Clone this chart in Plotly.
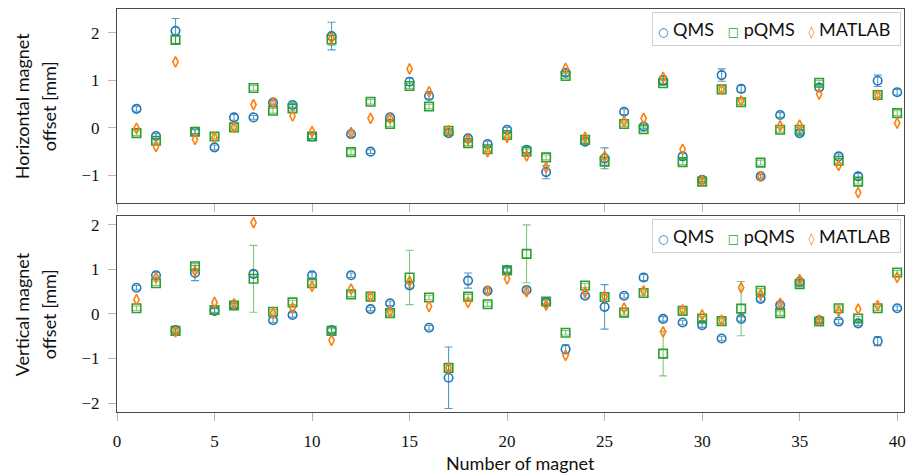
import plotly.graph_objects as go

# Magnet index
magnets = list(range(1, 41))

# Horizontal offsets [mm]
h_qms = [0.40, -0.17, 2.04, -0.08, -0.41, 0.22, 0.22, 0.53, 0.48, -0.18,
         1.93, -0.13, -0.50, 0.22, 0.97, 0.67, -0.11, -0.22, -0.34, -0.04,
         -0.46, -0.93, 1.16, -0.29, -0.64, 0.34, 0.03, 1.00, -0.60, -1.09,
         1.11, 0.82, -1.02, 0.27, -0.11, 0.85, -0.60, -1.02, 0.99, 0.75]
h_qms_err = [0.05, 0.05, 0.26, 0.04, 0.05, 0.06, 0.04, 0.05, 0.06, 0.05,
             0.29, 0.05, 0.04, 0.05, 0.08, 0.06, 0.05, 0.05, 0.06, 0.05,
             0.06, 0.14, 0.06, 0.05, 0.22, 0.06, 0.05, 0.09, 0.06, 0.04,
             0.13, 0.07, 0.04, 0.05, 0.05, 0.06, 0.05, 0.06, 0.12, 0.06]
h_pqms = [-0.11, -0.27, 1.85, -0.08, -0.18, 0.01, 0.84, 0.36, 0.41, -0.18,
          1.86, -0.51, 0.55, 0.08, 0.88, 0.45, -0.06, -0.32, -0.45, -0.15,
          -0.50, -0.62, 1.09, -0.25, -0.71, 0.08, -0.03, 0.94, -0.72, -1.13,
          0.81, 0.54, -0.73, -0.04, -0.04, 0.95, -0.69, -1.13, 0.69, 0.31]
h_pqms_err = [0.05, 0.05, 0.08, 0.05, 0.05, 0.05, 0.05, 0.05, 0.05, 0.05,
              0.12, 0.05, 0.05, 0.05, 0.05, 0.05, 0.05, 0.05, 0.05, 0.05,
              0.05, 0.05, 0.05, 0.05, 0.05, 0.05, 0.05, 0.05, 0.05, 0.05,
              0.05, 0.05, 0.05, 0.05, 0.05, 0.05, 0.05, 0.05, 0.05, 0.05]
h_matlab = [-0.01, -0.39, 1.39, -0.24, -0.20, 0.01, 0.49, 0.53, 0.25, -0.08,
            1.88, -0.10, 0.20, 0.20, 1.24, 0.76, -0.06, -0.25, -0.50, -0.20,
            -0.59, -0.83, 1.25, -0.20, -0.60, 0.13, 0.20, 1.06, -0.45, -1.11,
            0.81, 0.57, -1.02, 0.04, 0.06, 0.71, -0.79, -1.36, 0.69, 0.10]

# Vertical offsets [mm]
v_qms = [0.59, 0.87, -0.36, 0.92, 0.07, 0.20, 0.90, -0.14, -0.02, 0.87,
         -0.36, 0.87, 0.11, 0.24, 0.64, -0.31, -1.43, 0.75, 0.52, 0.99,
         0.54, 0.26, -0.79, 0.41, 0.16, 0.41, 0.82, -0.11, -0.19, -0.25,
         -0.55, -0.11, 0.34, 0.20, 0.72, -0.14, -0.17, -0.21, -0.61, 0.13]
v_qms_err = [0.05, 0.06, 0.05, 0.17, 0.05, 0.05, 0.07, 0.05, 0.05, 0.06,
             0.05, 0.05, 0.04, 0.05, 0.06, 0.05, 0.69, 0.17, 0.05, 0.05,
             0.05, 0.05, 0.10, 0.05, 0.50, 0.05, 0.07, 0.05, 0.05, 0.05,
             0.05, 0.05, 0.05, 0.05, 0.05, 0.05, 0.05, 0.05, 0.10, 0.05]
v_pqms = [0.13, 0.69, -0.38, 1.07, 0.09, 0.19, 0.79, 0.05, 0.26, 0.69,
          -0.38, 0.44, 0.39, 0.02, 0.82, 0.37, -1.21, 0.39, 0.22, 0.98,
          1.35, 0.28, -0.42, 0.64, 0.38, 0.03, 0.47, -0.89, 0.07, -0.10,
          -0.16, 0.12, 0.52, 0.02, 0.67, -0.17, 0.13, -0.10, 0.13, 0.93]
v_pqms_err = [0.05, 0.05, 0.05, 0.06, 0.05, 0.05, 0.75, 0.05, 0.05, 0.05,
              0.05, 0.05, 0.05, 0.05, 0.61, 0.05, 0.06, 0.05, 0.05, 0.05,
              0.65, 0.05, 0.05, 0.05, 0.05, 0.05, 0.05, 0.50, 0.05, 0.05,
              0.05, 0.61, 0.05, 0.05, 0.05, 0.05, 0.05, 0.05, 0.05, 0.05]
v_matlab = [0.32, 0.82, -0.40, 0.96, 0.26, 0.23, 2.05, 0.02, 0.13, 0.62,
            -0.59, 0.56, 0.39, 0.05, 0.73, 0.17, -1.21, 0.26, 0.52, 0.79,
            0.50, 0.20, -0.93, 0.49, 0.39, 0.13, 0.52, -0.40, 0.09, -0.02,
            -0.14, 0.59, 0.44, 0.24, 0.77, -0.14, 0.07, 0.11, 0.19, 0.82]

x_ticks = list(range(0, 41, 5))

BLUE = "#1f77b4"
GREEN = "#2ca02c"
ORANGE = "#ff7f0e"

# name, marker symbol, colour, error-bar colour, marker size, legend glyph
SERIES = [
    ("QMS", "circle-open", BLUE, "rgba(31,119,180,0.75)", 8.5, "○"),
    ("pQMS", "square-open", GREEN, "rgba(44,160,44,0.6)", 8.5, "□"),
    ("MATLAB", "diamond-tall-open", ORANGE, "rgba(255,127,14,0.7)", 7.5, "◊"),
]

panels = [
    ("x", "y", [h_qms, h_pqms, h_matlab], [h_qms_err, h_pqms_err, None]),
    ("x2", "y2", [v_qms, v_pqms, v_matlab], [v_qms_err, v_pqms_err, None]),
]

fig = go.Figure()
for xa, ya, values, errors in panels:
    for (name, symbol, color, ecolor, size, _), vals, err in zip(SERIES, values, errors):
        fig.add_trace(go.Scatter(
            x=magnets, y=vals, name=name, mode="markers",
            xaxis=xa, yaxis=ya, showlegend=False,
            marker=dict(symbol=symbol, size=size, color=color,
                        line=dict(width=1.6, color=color)),
            error_y=(dict(type="data", array=err, visible=True, color=ecolor,
                          thickness=1.1, width=4) if err is not None else None),
        ))

tick_font = dict(family="Liberation Serif, DejaVu Serif, serif", size=17, color="#111")
label_font = dict(family="Lato, sans-serif", size=18, color="#111")
frame = dict(showline=True, mirror=True, linecolor="#4a4a4a", linewidth=1.2,
             showgrid=False, zeroline=False, ticks="outside", ticklen=8,
             tickcolor="#b5b5b5", tickwidth=1, tickfont=tick_font,
             ticklabelstandoff=5)

fig.update_layout(
    width=907, height=475,
    margin=dict(l=117, r=1, t=9, b=63),
    paper_bgcolor="white", plot_bgcolor="white",
    showlegend=False,
    xaxis=dict(domain=[0, 1], anchor="y", range=[0, 40.35], tickvals=x_ticks,
               showticklabels=False, **frame),
    xaxis2=dict(domain=[0, 1], anchor="y2", range=[0, 40.35], tickvals=x_ticks,
                ticklabeloverflow="allow", **frame),
    yaxis=dict(domain=[0.5186, 1], anchor="x", range=[-1.58, 2.5],
               tickvals=[-1, 0, 1, 2], **frame),
    yaxis2=dict(domain=[0, 0.4864], anchor="x2", range=[-2.2, 2.2],
                tickvals=[-2, -1, 0, 1, 2], **frame),
)

# Two-line y-axis titles, one per panel
y_titles = [("y domain", "Horizontal magnet", "offset [mm]"),
            ("y2 domain", "Vertical magnet", "offset [mm]")]
for yref, line1, line2 in y_titles:
    for xpos, txt in ((-0.1204, line1), (-0.0862, line2)):
        fig.add_annotation(text=txt, xref="paper", x=xpos, yref=yref, y=0.5,
                           textangle=-90, showarrow=False, font=label_font,
                           xanchor="center", yanchor="middle")

fig.add_annotation(text="Number of magnet", xref="paper", x=0.5133, yref="paper", y=-0.1266,
                   showarrow=False, font=label_font, xanchor="center", yanchor="middle")

# Legend boxes (one per panel)
sp = "\u00a0"
parts = []
for name, _, color, _, _, glyph in SERIES:
    parts.append(f'<span style="color:{color};font-family:DejaVu Sans;font-size:12px">'
                 f'{glyph}</span>{sp}{name}')
legend_text = (sp * 3).join(parts) + sp
for yref in ("y domain", "y2 domain"):
    fig.add_annotation(text=legend_text, xref="paper", x=0.9962, yref=yref, y=0.983,
                       xanchor="right", yanchor="top", showarrow=False,
                       font=dict(family="Lato, sans-serif", size=18, color="#111"),
                       bgcolor="white", bordercolor="#d0d0d0", borderwidth=1,
                       borderpad=5)

fig.write_html("out.html")
